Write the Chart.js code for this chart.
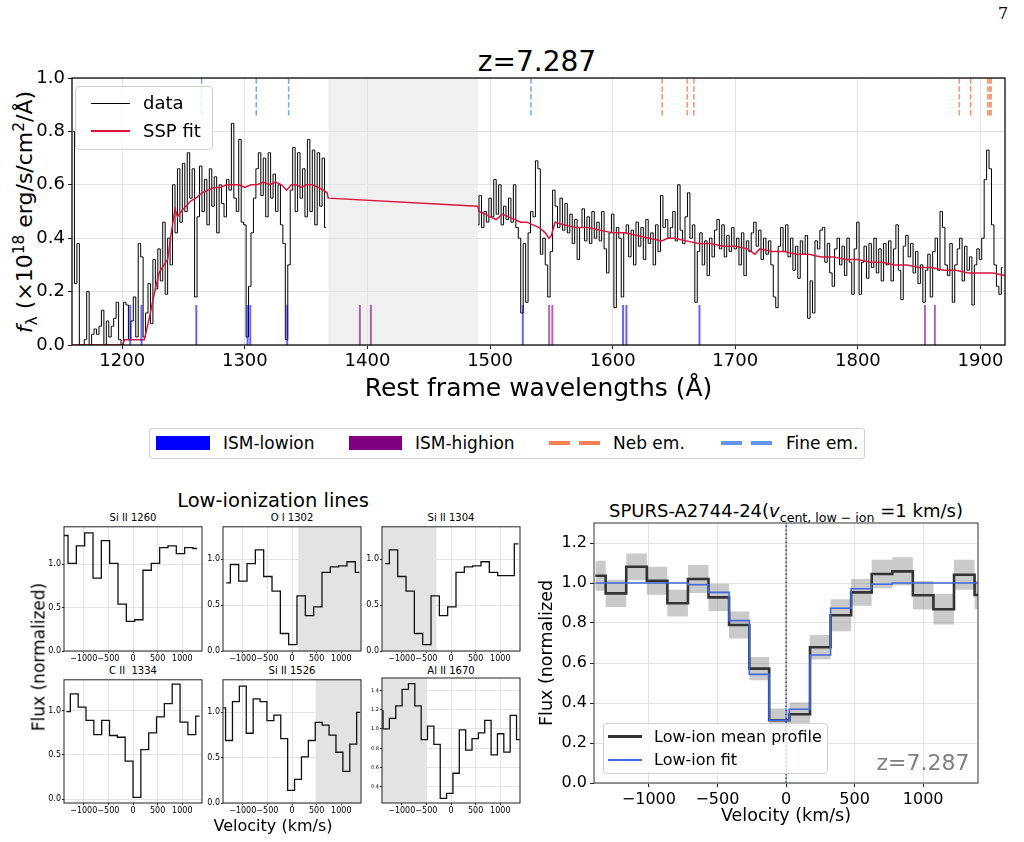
<!DOCTYPE html>
<html>
<head>
<meta charset="utf-8">
<title>SPURS-A2744-24 z=7.287</title>
<script src="https://cdn.jsdelivr.net/npm/chart.js@4.4.1/dist/chart.umd.min.js"></script>
<style>
  body { margin: 0; width: 1024px; height: 842px; position: relative; overflow: hidden; background: #fff; font-family: 'DejaVu Sans', sans-serif; color: #000; }
  canvas { position: absolute; }
  .txt { position: absolute; white-space: nowrap; line-height: 1; transform: translate(-50%, -50%); }
  .rot { transform: translate(-50%, -50%) rotate(-90deg); }
  .lgd { position: absolute; background: rgba(255,255,255,0.8); border: 1px solid #d0d0d0; border-radius: 4px; box-sizing: border-box; }
  .item { position: absolute; white-space: nowrap; line-height: 1; transform: translateY(-50%); }
  .sw { position: absolute; }
  sub, sup { font-size: 0.7em; line-height: 0; }
</style>
</head>
<body>

<div class="txt" style="left:1003px;top:14px;font-family:'DejaVu Serif',serif;font-size:16px">7</div>
<div class="txt" style="left:537px;top:62px;font-size:28px">z=7.287</div>
<div class="txt rot" style="left:25px;top:212px;font-size:22px"><i>f</i><sub>λ</sub> (×10<sup>18</sup> erg/s/cm<sup>2</sup>/Å)</div>

<canvas id="spec" width="1024" height="410" style="left:0;top:0"></canvas>

<!-- legend inside spectrum -->
<div class="lgd" style="left:75px;top:86px;width:138px;height:64px"></div>
<div class="sw" style="left:91px;top:102.5px;width:39px;height:1.3px;background:#000"></div>
<div class="item" style="left:143px;top:103px;font-size:18px">data</div>
<div class="sw" style="left:91px;top:130px;width:39px;height:1.6px;background:#dc143c"></div>
<div class="item" style="left:143px;top:131px;font-size:18px">SSP fit</div>

<!-- line legend row -->
<div class="lgd" style="left:149px;top:428px;width:716px;height:31px;border-radius:3px"></div>
<div class="sw" style="left:156px;top:436px;width:54px;height:14px;background:#0000ff"></div>
<div class="item" style="left:223px;top:443px;font-size:17px">ISM-lowion</div>
<div class="sw" style="left:349px;top:436px;width:53px;height:14px;background:#800080"></div>
<div class="item" style="left:415px;top:443px;font-size:17px">ISM-highion</div>
<div class="sw" style="left:549px;top:441px;width:21px;height:4px;background:#ff7f50"></div>
<div class="sw" style="left:579px;top:441px;width:21px;height:4px;background:#ff7f50"></div>
<div class="item" style="left:613px;top:443px;font-size:17px">Neb em.</div>
<div class="sw" style="left:721px;top:441px;width:21px;height:4px;background:#6495ed"></div>
<div class="sw" style="left:751px;top:441px;width:21px;height:4px;background:#6495ed"></div>
<div class="item" style="left:786px;top:443px;font-size:17px">Fine em.</div>

<!-- low-ionization panels -->
<div class="txt" style="left:273px;top:501px;font-size:19.5px">Low-ionization lines</div>
<div class="txt" style="left:133px;top:518px;font-size:10px">Si II 1260</div>
<div class="txt" style="left:292px;top:518px;font-size:10px">O I 1302</div>
<div class="txt" style="left:451px;top:518px;font-size:10px">Si II 1304</div>
<div class="txt" style="left:133px;top:671px;font-size:10px">C II&nbsp; 1334</div>
<div class="txt" style="left:292px;top:671px;font-size:10px">Si II 1526</div>
<div class="txt" style="left:451px;top:671px;font-size:10px">Al II 1670</div>
<canvas id="p1" width="170" height="150" style="left:34px;top:521px"></canvas>
<canvas id="p2" width="170" height="150" style="left:193px;top:521px"></canvas>
<canvas id="p3" width="170" height="150" style="left:352px;top:521px"></canvas>
<canvas id="p4" width="170" height="149" style="left:34px;top:674px"></canvas>
<canvas id="p5" width="170" height="149" style="left:193px;top:674px"></canvas>
<canvas id="p6" width="170" height="149" style="left:352px;top:674px"></canvas>
<div class="txt rot" style="left:39px;top:657px;font-size:17px">Flux (normalized)</div>
<div class="txt" style="left:273px;top:826px;font-size:16px">Velocity (km/s)</div>

<!-- mean profile -->
<div class="txt" style="left:786px;top:511px;font-size:18px">SPURS-A2744-24(<i>v</i><sub>cent, low − ion</sub> =1 km/s)</div>
<canvas id="prof" width="494" height="342" style="left:530px;top:498px"></canvas>
<div class="lgd" style="left:603px;top:723px;width:225px;height:51px"></div>
<div class="sw" style="left:608px;top:735px;width:34px;height:2.6px;background:#333"></div>
<div class="item" style="left:654px;top:737px;font-size:16px">Low-ion mean profile</div>
<div class="sw" style="left:608px;top:759px;width:34px;height:1.6px;background:#4169e1"></div>
<div class="item" style="left:654px;top:760px;font-size:16px">Low-ion fit</div>
<div class="txt" style="left:923px;top:763px;font-size:22px;color:#808080">z=7.287</div>

<script>
// ---- spectrum (rest frame, 1e-18 erg/s/cm2/A) ----
const specStep = 2;
const specAStart = 1160;
const specA = [
  0.80, 0.23, 0.38, 0.00, 0.00, 0.02, 0.20, 0.00, 0.04, 0.06,
  0.04, 0.07, 0.13, 0.00, 0.09, 0.03, 0.07, 0.10, 0.16, 0.02,
  0.00, 0.16, 0.15, 0.02, 0.09, 0.18, 0.03, 0.38, 0.33, 0.03,
  0.12, 0.23, 0.08, 0.32, 0.21, 0.36, 0.24, 0.46, 0.19, 0.40,
  0.30, 0.60, 0.42, 0.66, 0.46, 0.68, 0.50, 0.72, 0.55, 0.66,
  0.18, 0.48, 0.67, 0.50, 0.62, 0.45, 0.66, 0.52, 0.63, 0.42,
  0.60, 0.53, 0.48, 0.62, 0.58, 0.83, 0.55, 0.50, 0.77, 0.46,
  0.45, 0.03, 0.22, 0.42, 0.55, 0.66, 0.72, 0.56, 0.70, 0.48,
  0.72, 0.55, 0.64, 0.50, 0.60, 0.45, 0.38, 0.02, 0.30, 0.58,
  0.74, 0.50, 0.72, 0.55, 0.66, 0.48, 0.77, 0.50, 0.73, 0.45,
  0.72, 0.52, 0.70, 0.44
];
const specBStart = 1490;
const specB = [
  0.45, 0.56, 0.44, 0.50, 0.46, 0.55, 0.48, 0.62, 0.49, 0.60,
  0.45, 0.52, 0.47, 0.55, 0.46, 0.60, 0.44, 0.40, 0.12, 0.38,
  0.16, 0.42, 0.50, 0.48, 0.69, 0.66, 0.34, 0.40, 0.30, 0.18,
  0.35, 0.58, 0.52, 0.44, 0.55, 0.43, 0.53, 0.42, 0.49, 0.38,
  0.47, 0.32, 0.44, 0.51, 0.39, 0.48, 0.38, 0.50, 0.40, 0.46,
  0.39, 0.50, 0.36, 0.27, 0.42, 0.49, 0.14, 0.44, 0.40, 0.18,
  0.42, 0.45, 0.33, 0.43, 0.30, 0.46, 0.37, 0.44, 0.32, 0.47,
  0.38, 0.42, 0.30, 0.45, 0.35, 0.56, 0.44, 0.47, 0.40, 0.44,
  0.50, 0.39, 0.60, 0.43, 0.38, 0.48, 0.57, 0.40, 0.45, 0.16,
  0.35, 0.42, 0.30, 0.39, 0.26, 0.40, 0.33, 0.43, 0.47, 0.36,
  0.45, 0.33, 0.41, 0.35, 0.44, 0.36, 0.40, 0.30, 0.42, 0.26,
  0.39, 0.35, 0.42, 0.46, 0.37, 0.43, 0.32, 0.40, 0.34, 0.39,
  0.30, 0.18, 0.14, 0.37, 0.44, 0.35, 0.45, 0.33, 0.40, 0.28,
  0.37, 0.25, 0.39, 0.34, 0.41, 0.10, 0.24, 0.12, 0.39, 0.36,
  0.43, 0.44, 0.31, 0.38, 0.27, 0.22, 0.36, 0.40, 0.30, 0.37,
  0.26, 0.40, 0.31, 0.19, 0.36, 0.46, 0.19, 0.31, 0.37, 0.25,
  0.38, 0.29, 0.40, 0.27, 0.36, 0.24, 0.38, 0.30, 0.39, 0.24,
  0.36, 0.45, 0.28, 0.17, 0.37, 0.41, 0.33, 0.38, 0.27, 0.35,
  0.23, 0.30, 0.16, 0.28, 0.34, 0.18, 0.35, 0.40, 0.28, 0.50,
  0.44, 0.30, 0.26, 0.38, 0.16, 0.30, 0.36, 0.40, 0.24, 0.37,
  0.28, 0.33, 0.15, 0.30, 0.36, 0.32, 0.40, 0.62, 0.73, 0.66,
  0.45, 0.30, 0.22, 0.19, 0.29
];
const sspWave = [1160, 1200, 1202, 1218, 1222, 1226, 1230, 1234, 1237, 1240, 1243, 1245, 1248, 1252, 1256, 1260,
  1265, 1270, 1275, 1280, 1285, 1290, 1295, 1300, 1305, 1310, 1315, 1320, 1325, 1330, 1334, 1338, 1342, 1346,
  1350, 1355, 1360, 1364, 1367, 1368, 1490, 1491, 1496, 1500, 1505, 1510, 1515, 1520, 1525, 1530, 1535, 1540,
  1545, 1548, 1550, 1553, 1560, 1570, 1580, 1590, 1600, 1610, 1620, 1630, 1640, 1645, 1650, 1660, 1670, 1680,
  1690, 1700, 1710, 1716, 1720, 1730, 1740, 1750, 1760, 1770, 1780, 1790, 1800, 1810, 1820, 1830, 1840, 1850,
  1860, 1870, 1880, 1890, 1900, 1910, 1920];
const sspFlux = [0.00, 0.00, 0.02, 0.02, 0.10, 0.19, 0.27, 0.30, 0.32, 0.42, 0.51, 0.48, 0.50, 0.52, 0.54, 0.55,
  0.57, 0.58, 0.59, 0.59, 0.60, 0.60, 0.60, 0.59, 0.60, 0.60, 0.61, 0.60, 0.61, 0.60, 0.58, 0.60, 0.60, 0.59,
  0.60, 0.60, 0.59, 0.58, 0.57, 0.55, 0.52, 0.50, 0.49, 0.48, 0.47, 0.49, 0.48, 0.47, 0.46, 0.46, 0.45, 0.44,
  0.42, 0.40, 0.41, 0.46, 0.45, 0.44, 0.44, 0.43, 0.42, 0.42, 0.41, 0.40, 0.39, 0.40, 0.40, 0.39, 0.38, 0.38,
  0.37, 0.37, 0.36, 0.34, 0.36, 0.35, 0.35, 0.34, 0.34, 0.33, 0.33, 0.32, 0.32, 0.31, 0.31, 0.30, 0.30, 0.29,
  0.29, 0.28, 0.28, 0.27, 0.27, 0.27, 0.26];
const chipGap = [1368, 1490];
const lowionLines = [1206.5, 1215.7, 1260.4, 1302.2, 1304.4, 1334.5, 1526.7, 1608.5, 1611.2, 1670.8];
const highionLines = [1393.8, 1402.8, 1548.2, 1550.8, 1854.7, 1862.8];
const nebLines = [1640.4, 1660.8, 1666.2, 1882.7, 1892.0, 1906.0, 1907.4, 1908.7];
const fineLines = [1264.7, 1309.3, 1335.7, 1533.4];
const ismTop = 0.15;
const emBottom = 0.86;
const specXTicks = [1200, 1300, 1400, 1500, 1600, 1700, 1800, 1900];
const specYTicks = [0, 0.2, 0.4, 0.6, 0.8, 1.0];

// ---- single low-ionisation lines (velocity km/s, normalised flux) ----
const siII1260Vel = [-1403, -1234, -1065, -896, -727, -558, -389, -220, -51, 118, 287, 456, 625, 794, 963, 1132, 1301];
const siII1260Flux = [1.33, 1.01, 1.21, 1.36, 0.84, 1.27, 1.01, 0.54, 0.34, 0.36, 0.93, 1.01, 1.19, 1.21, 1.12, 1.19, 1.18];
const oI1302Vel = [-1335, -1166, -997, -828, -659, -490, -321, -152, 17, 186, 355, 524, 693, 862, 1031, 1200, 1369];
const oI1302Flux = [0.74, 0.94, 0.76, 0.95, 1.10, 0.81, 0.65, 0.19, 0.07, 0.60, 0.385, 0.48, 0.855, 0.915, 0.925, 0.97, 0.855];
const siII1304Vel = [-1335, -1166, -997, -828, -659, -490, -321, -152, 17, 186, 355, 524, 693, 862, 1031, 1200, 1369];
const siII1304Flux = [0.95, 1.10, 0.81, 0.65, 0.19, 0.07, 0.60, 0.385, 0.48, 0.855, 0.915, 0.925, 0.97, 0.855, 0.82, 0.82, 1.165];
const cII1334Vel = [-1351, -1192, -1033, -874, -715, -556, -397, -238, -79, 80, 239, 398, 557, 716, 875, 1034, 1193, 1352];
const cII1334Flux = [0.99, 1.19, 1.04, 0.89, 0.73, 0.89, 0.72, 0.70, 0.43, 0.02, 0.56, 0.75, 0.93, 1.08, 1.30, 0.87, 0.73, 0.94];
const siII1526Vel = [-1418, -1278, -1138, -998, -858, -718, -578, -438, -298, -158, -18, 122, 262, 402, 542, 682, 822, 962, 1102, 1242, 1382];
const siII1526Flux = [1.05, 0.69, 1.12, 1.29, 0.77, 1.15, 1.12, 0.91, 0.97, 0.71, 0.14, 0.26, 0.51, 0.69, 0.89, 0.86, 0.75, 0.56, 0.35, 0.65, 1.00];
const alII1670Vel = [-1444, -1315, -1186, -1057, -928, -799, -670, -541, -412, -283, -154, -25, 104, 233, 362, 491, 620, 749, 878, 1007, 1136, 1265, 1394];
const alII1670Flux = [1.19, 1.00, 1.11, 1.24, 1.41, 1.47, 1.24, 0.89, 1.03, 0.84, 0.28, 0.33, 0.54, 0.99, 0.78, 0.90, 0.96, 1.09, 0.73, 0.95, 0.76, 1.14, 0.89];
const panelXTicks = [-1000, -500, 0, 500, 1000];
const panelYTicks = [0, 0.5, 1.0];
const alII1670YTicks = [0.4, 0.6, 0.8, 1.0, 1.2, 1.4];

// ---- mean low-ion profile ----
const meanVel = [-1390, -1240, -1090, -940, -790, -640, -490, -340, -195, -50, 100, 250, 400, 550, 700, 850, 1000, 1150, 1300, 1450];
const meanFlux = [1.036, 0.948, 1.081, 1.011, 0.899, 1.020, 0.928, 0.790, 0.572, 0.314, 0.344, 0.679, 0.839, 0.953, 1.045, 1.058, 0.939, 0.869, 1.041, 0.940];
const meanErr = [0.075, 0.068, 0.067, 0.070, 0.067, 0.070, 0.068, 0.067, 0.058, 0.058, 0.058, 0.061, 0.080, 0.067, 0.071, 0.071, 0.071, 0.077, 0.075, 0.071];
const fitFlux = [1.0, 1.0, 1.0, 1.0, 1.0, 0.991, 0.953, 0.812, 0.543, 0.314, 0.369, 0.640, 0.874, 0.971, 0.994, 1.0, 1.0, 1.0, 1.0, 1.0];
const vCent = 1;
const profXTicks = [-1000, -500, 0, 500, 1000];
const profYTicks = [0, 0.2, 0.4, 0.6, 0.8, 1.0, 1.2];

Chart.defaults.font.family = "'DejaVu Sans', sans-serif";
Chart.defaults.color = '#000';

const pts = (xs, ys) => xs.map((x, i) => ({x: x, y: ys[i]}));
const minus = v => (v < 0 ? '\u2212' + Math.abs(v) : String(v));

// grey masked regions, drawn under the grid
const shadePlugin = {
  id: 'shade',
  beforeDraw(chart, args, opts) {
    if (!opts.ranges) return;
    const xs = chart.scales.x, a = chart.chartArea, ctx = chart.ctx;
    ctx.save();
    ctx.fillStyle = opts.color;
    opts.ranges.forEach(r => {
      const x0 = Math.max(a.left, xs.getPixelForValue(r[0]));
      const x1 = Math.min(a.right, xs.getPixelForValue(r[1]));
      ctx.fillRect(x0, a.top, x1 - x0, a.bottom - a.top);
    });
    ctx.restore();
  }
};

// matplotlib style box round the axes
const framePlugin = {
  id: 'frame',
  afterDraw(chart, args, opts) {
    const a = chart.chartArea, ctx = chart.ctx;
    ctx.save();
    ctx.strokeStyle = opts.color || '#000';
    ctx.lineWidth = opts.width || 1;
    ctx.strokeRect(a.left, a.top, a.right - a.left, a.bottom - a.top);
    ctx.restore();
  }
};

function axis(min, max, ticks, size, fmt, thick, tickLen, pad) {
  return {
    type: 'linear', min: min, max: max,
    afterBuildTicks: s => { s.ticks = ticks.map(v => ({value: v})); },
    afterFit: s => { if (s.isHorizontal()) s.height = thick; else s.width = thick; },
    border: {display: false},
    grid: {color: '#e3e3e3', lineWidth: 1, drawTicks: true, tickLength: tickLen, tickColor: '#222', tickWidth: 1},
    ticks: {font: {size: size}, color: '#000', padding: pad, autoSkip: false, maxRotation: 0, minRotation: 0, callback: fmt}
  };
}

function markerSet(waves, y0, y1, color, dash, width) {
  const data = [];
  waves.forEach(w => { data.push({x: w, y: y0}, {x: w, y: y1}, {x: w, y: null}); });
  return {data: data, borderColor: color, borderWidth: width, borderDash: dash, pointRadius: 0, spanGaps: false};
}

// ---- spectrum ----
const specPts = specA.map((f, i) => ({x: specAStart + specStep * i, y: f}))
  .concat([{x: (chipGap[0] + chipGap[1]) / 2, y: null}])
  .concat(specB.map((f, i) => ({x: specBStart + specStep * i, y: f})));

const specX = axis(1159, 1920, specXTicks, 18, v => String(v), 65, 4, 2);
specX.title = {display: true, text: 'Rest frame wavelengths (\u00c5)', font: {size: 25}, color: '#000', padding: {top: 0, bottom: 6}};

new Chart(document.getElementById('spec'), {
  type: 'line',
  data: {datasets: [
    markerSet(lowionLines, 0, ismTop, 'rgba(0,0,255,0.6)', [], 2),
    markerSet(highionLines, 0, ismTop, 'rgba(128,0,128,0.6)', [], 2),
    markerSet(nebLines, emBottom, 1, 'rgba(255,127,80,0.85)', [5.5, 2.4], 1.5),
    markerSet(fineLines, emBottom, 1, 'rgba(100,149,237,0.85)', [5.5, 2.4], 1.5),
    {label: 'SSP fit', data: pts(sspWave, sspFlux), borderColor: '#dc143c', borderWidth: 1.5, pointRadius: 0},
    {label: 'data', data: specPts, borderColor: '#000', borderWidth: 1, pointRadius: 0, stepped: 'middle', spanGaps: false}
  ]},
  options: {
    responsive: false, animation: false, events: [],
    layout: {padding: {top: 78, right: 19, left: 0, bottom: 0}},
    plugins: {
      legend: {display: false}, tooltip: {enabled: false},
      shade: {ranges: [chipGap], color: 'rgba(128,128,128,0.12)'},
      frame: {color: '#000', width: 1.25}
    },
    scales: {
      x: specX,
      y: axis(0, 1, specYTicks, 18, v => v.toFixed(1), 72, 4, 3)
    }
  },
  plugins: [shadePlugin, framePlugin]
});

// ---- small panels ----
function panel(id, vel, flux, yMin, yMax, yTicks, yFont, masked) {
  return new Chart(document.getElementById(id), {
    type: 'line',
    data: {datasets: [{data: pts(vel, flux), borderColor: '#111', borderWidth: 1.3, pointRadius: 0, stepped: 'middle'}]},
    options: {
      responsive: false, animation: false, events: [],
      layout: {padding: {top: 2, right: 2, left: 0, bottom: 0}},
      plugins: {
        legend: {display: false}, tooltip: {enabled: false},
        shade: {ranges: masked ? [masked] : [], color: 'rgba(128,128,128,0.22)'},
        frame: {color: '#222', width: 1}
      },
      scales: {
        x: axis(-1400, 1400, panelXTicks, 8, minus, 20, 2, 1),
        y: axis(yMin, yMax, yTicks, yFont, v => v.toFixed(1), 30, 2, 1)
      }
    },
    plugins: [shadePlugin, framePlugin]
  });
}

panel('p1', siII1260Vel, siII1260Flux, 0, 1.43, panelYTicks, 8, null);
panel('p2', oI1302Vel, oI1302Flux, 0, 1.35, panelYTicks, 8, [130, 1400]);
panel('p3', siII1304Vel, siII1304Flux, 0, 1.35, panelYTicks, 8, [-1400, -295]);
panel('p4', cII1334Vel, cII1334Flux, -0.044, 1.35, panelYTicks, 8, null);
panel('p5', siII1526Vel, siII1526Flux, 0, 1.36, panelYTicks, 8, [480, 1400]);
panel('p6', alII1670Vel, alII1670Flux, 0.231, 1.529, alII1670YTicks, 5, [-1400, -510]);

// ---- mean profile ----
const profX = axis(-1400, 1400, profXTicks, 16, minus, 57, 4, 3);
profX.title = {display: true, text: 'Velocity (km/s)', font: {size: 17.5}, color: '#000', padding: {top: 0, bottom: 13}};
const profY = axis(0, 1.3, profYTicks, 16, v => v.toFixed(1), 64, 4, 3);
profY.title = {display: true, text: 'Flux (normalized', font: {size: 17.5}, color: '#000', padding: {top: 7, bottom: 0}};

new Chart(document.getElementById('prof'), {
  type: 'line',
  data: {datasets: [
    {data: [{x: vCent, y: 0}, {x: vCent, y: 1.3}], borderColor: 'rgba(30,30,110,0.85)', borderWidth: 1.3, borderDash: [1.5, 2.5], pointRadius: 0},
    {data: [{x: vCent, y: 0}, {x: vCent, y: 1.3}], borderColor: 'rgba(65,105,225,0.35)', borderWidth: 2, pointRadius: 0},
    {label: 'Low-ion fit', data: pts(meanVel, fitFlux), borderColor: '#4169e1', borderWidth: 1.6, stepped: 'middle', pointRadius: 0},
    {label: 'Low-ion mean profile', data: pts(meanVel, meanFlux), borderColor: '#333', borderWidth: 2.6, stepped: 'middle', pointRadius: 0},
    {data: pts(meanVel, meanFlux.map((f, i) => f + meanErr[i])), borderColor: 'rgba(0,0,0,0)', borderWidth: 0,
      backgroundColor: 'rgba(128,128,128,0.42)', fill: '+1', stepped: 'middle', pointRadius: 0},
    {data: pts(meanVel, meanFlux.map((f, i) => f - meanErr[i])), borderColor: 'rgba(0,0,0,0)', borderWidth: 0,
      fill: false, stepped: 'middle', pointRadius: 0}
  ]},
  options: {
    responsive: false, animation: false, events: [],
    layout: {padding: {top: 25, right: 46, left: 0, bottom: 0}},
    plugins: {
      legend: {display: false}, tooltip: {enabled: false},
      frame: {color: '#333', width: 1}
    },
    scales: {x: profX, y: profY}
  },
  plugins: [framePlugin]
});
</script>
</body>
</html>
